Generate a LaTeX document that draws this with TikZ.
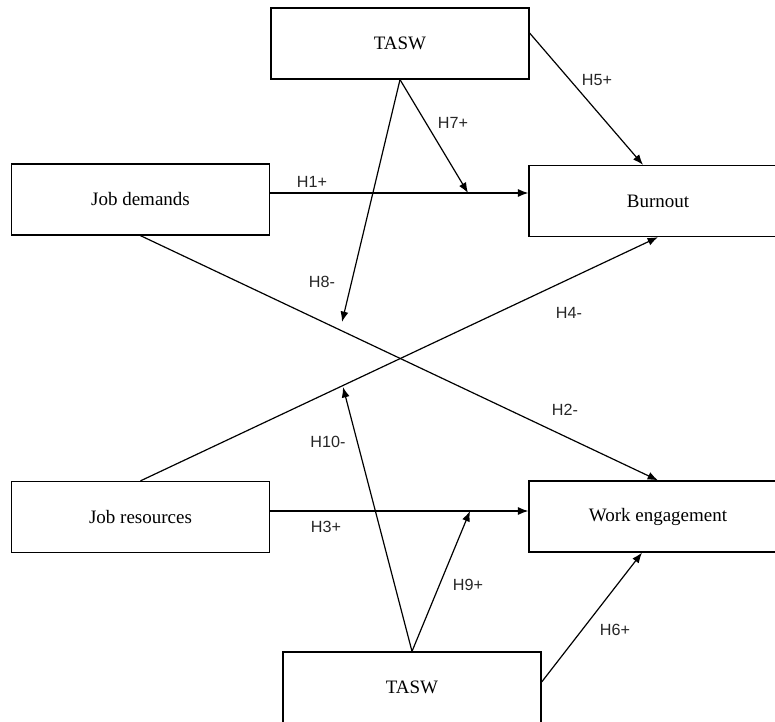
\documentclass[tikz,border=0pt]{standalone}
\usepackage{fontspec}
\setmainfont{Liberation Serif}
\newfontfamily\hipfont{Liberation Sans}
\usetikzlibrary{positioning}
\usetikzlibrary{arrows.meta}

\tikzset{
  caja/.style={draw, line width=0.9pt, minimum width=6.45cm, minimum height=1.775cm, inner sep=0pt, font=\fontsize{13.5}{16}\selectfont},
  hip/.style={font=\hipfont\fontsize{11.5}{13}\selectfont, inner sep=0pt, text=black!85},
  flecha/.style={-{Latex[length=2.6mm, width=2mm]}, line width=0.85pt}
}

\begin{document}
\begin{tikzpicture}[x=0.025cm, y=-0.025cm]
        \clip (0,0) rectangle (775,722);

        % Cajas
        \node[caja] (tasw1) at (400,43.5) {TASW};
        \node[caja] (jd) at (140.5,199.5) {Job demands};
        \node[caja] (bo) at (658,201) {Burnout};
        \node[caja] (jr) at (140.5,517) {Job resources};
        \node[caja] (we) at (658,516.5) {Work engagement};
        \node[caja] (tasw2) at (412,687.5) {TASW};

        % Puntos de llegada de las moderaciones
        \coordinate (p7) at (468,193);
        \coordinate (p8) at (342,322);
        \coordinate (p9) at (470,511);
        \coordinate (p10) at (343,387);

        % Efectos directos
        \draw[flecha] ([yshift=0.1625cm]jd.east) -- ([yshift=0.1625cm]jd.east -| bo.west);
        \draw[flecha] (jd.south) -- (we.north);
        \draw[flecha] ([yshift=0.15cm]jr.east) -- ([yshift=0.15cm]jr.east -| we.west);
        \draw[flecha] (jr.north) -- (bo.south);
        \draw[flecha] ([yshift=0.26cm]tasw1.east) -- ([xshift=-0.375cm]bo.north);
        \draw[flecha] ([yshift=0.1375cm]tasw2.east) -- ([xshift=-0.4cm]we.south);

        % Moderaciones
        \draw[flecha] (tasw1.south) -- (p7);
        \draw[flecha] (tasw1.south) -- (p8);
        \draw[flecha] (tasw2.north) -- (p9);
        \draw[flecha] (tasw2.north) -- (p10);

        % Etiquetas de las hipotesis
        \node[hip] (h1) at (312,182) {H1+};
        \node[hip] (h2) at (565,410) {H2-};
        \node[hip] (h3) at (326,527) {H3+};
        \node[hip] (h4) at (569,313) {H4-};
        \node[hip] (h5) at (597,80) {H5+};
        \node[hip] (h6) at (615,630) {H6+};
        \node[hip] (h7) at (453,123) {H7+};
        \node[hip] (h8) at (322,282) {H8-};
        \node[hip] (h9) at (468,585) {H9+};
        \node[hip] (h10) at (328,442) {H10-};
\end{tikzpicture}
\end{document}
